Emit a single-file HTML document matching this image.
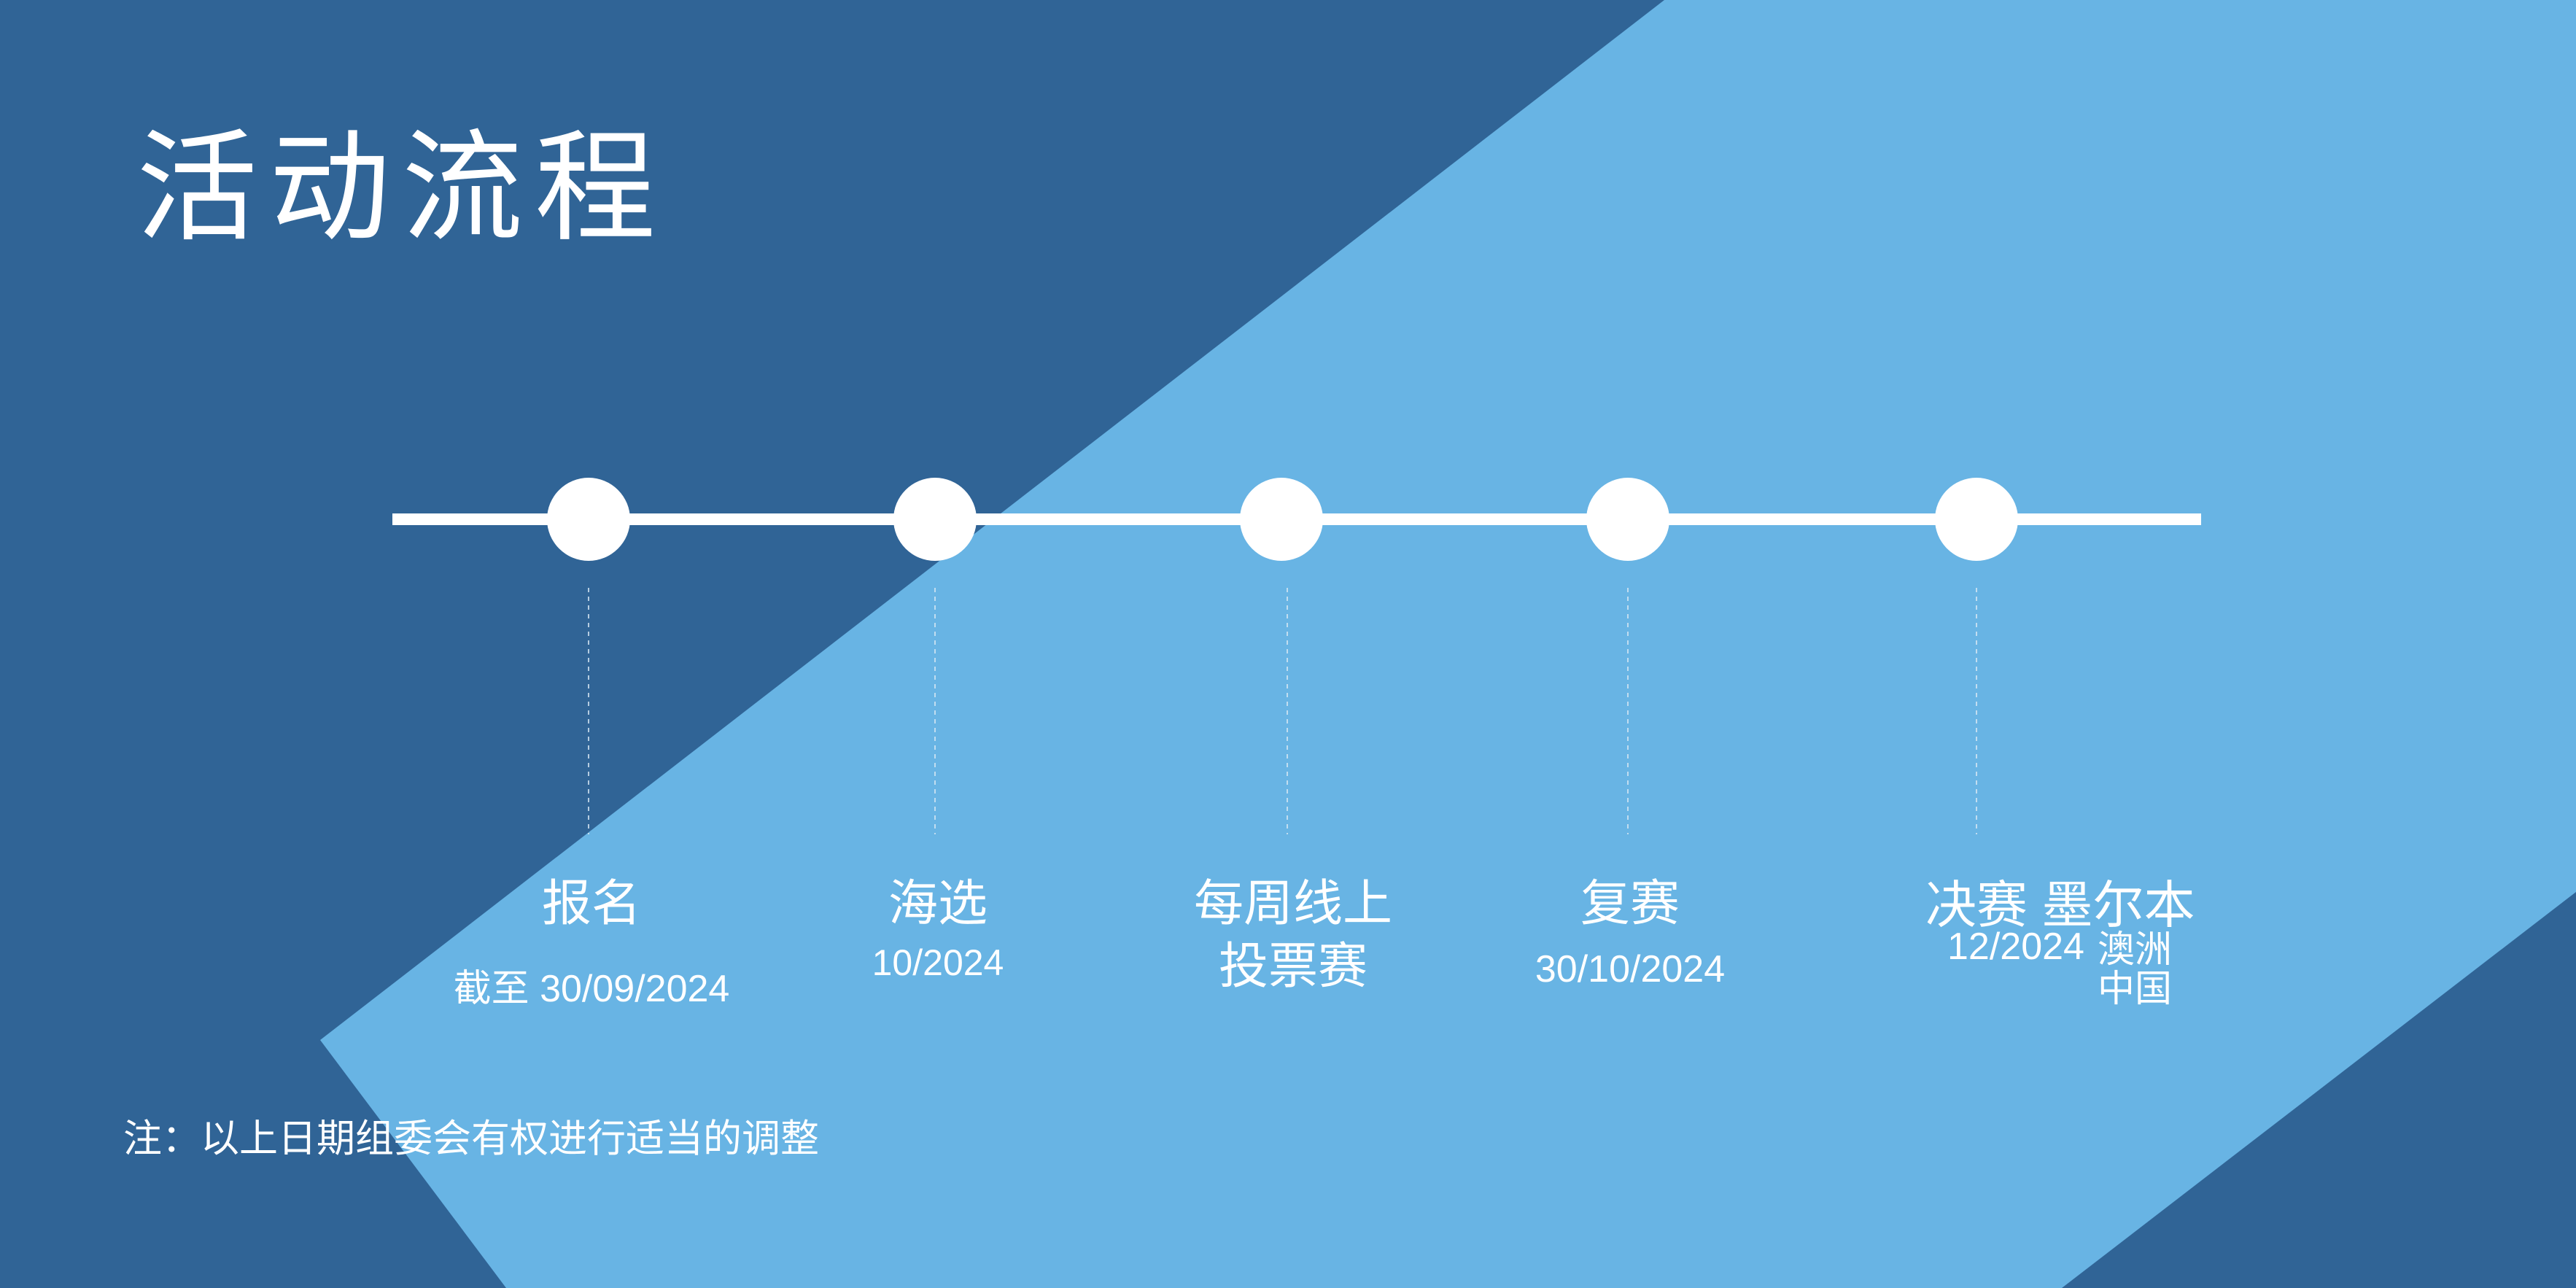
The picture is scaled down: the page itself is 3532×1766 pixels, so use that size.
<!DOCTYPE html>
<html><head><meta charset="utf-8">
<style>
html,body{margin:0;padding:0;}
body{width:3532px;height:1766px;position:relative;overflow:hidden;background:#306496;font-family:"Liberation Sans","Noto Sans CJK SC",sans-serif;color:#fff;}
svg{position:absolute;left:0;top:0;}
.t{position:absolute;white-space:nowrap;line-height:1;}
.c{transform:translate(-50%,-50%);text-align:center;}
.h{font-size:68px;}
.d{font-size:50px;}
</style></head><body>
<svg width="3532" height="1766" viewBox="0 0 3532 1766">
<polygon points="2282,0 3532,0 3532,1223 2827,1766 694,1766 439,1426" fill="#68b4e4"/>
<rect x="538" y="704" width="2480" height="16" fill="#fff"/>
<g fill="#fff"><circle cx="807" cy="712" r="57"/><circle cx="1282" cy="712" r="57"/><circle cx="1757" cy="712" r="57"/><circle cx="2232" cy="712" r="57"/><circle cx="2710" cy="712" r="57"/></g>
<g stroke="#d8e8f4" stroke-width="2" stroke-dasharray="6,6" opacity="0.8">
<line x1="807" y1="806" x2="807" y2="1144"/><line x1="1282" y1="806" x2="1282" y2="1144"/><line x1="1765" y1="806" x2="1765" y2="1144"/><line x1="2232" y1="806" x2="2232" y2="1144"/><line x1="2710" y1="806" x2="2710" y2="1144"/>
</g>
</svg>
<div class="t" style="left:187px;top:160px;font-size:166px;font-weight:400;font-family:'Noto Sans CJK SC',sans-serif;letter-spacing:16px;">活动流程</div>

<div class="t c h" style="left:811px;top:1239px;">报名</div>
<div class="t c" style="left:811px;top:1356px;font-size:52px;">截至 30/09/2024</div>

<div class="t c h" style="left:1286px;top:1239px;">海选</div>
<div class="t c d" style="left:1286px;top:1320px;">10/2024</div>

<div class="t c h" style="left:1773px;top:1239px;">每周线上</div>
<div class="t c h" style="left:1773px;top:1325px;">投票赛</div>

<div class="t c h" style="left:2235px;top:1239px;">复赛</div>
<div class="t c" style="left:2235px;top:1329px;font-size:52px;">30/10/2024</div>

<div class="t" style="left:2640px;top:1206px;font-size:70px;">决赛 墨尔本</div>
<div class="t" style="left:2670px;top:1272px;font-size:52px;">12/2024</div>
<div class="t" style="left:2876px;top:1276px;font-size:51px;">澳洲</div>
<div class="t" style="left:2876px;top:1330px;font-size:51px;">中国</div>

<div class="t" style="left:169px;top:1535px;font-size:53px;">注：以上日期组委会有权进行适当的调整</div>
</body></html>
